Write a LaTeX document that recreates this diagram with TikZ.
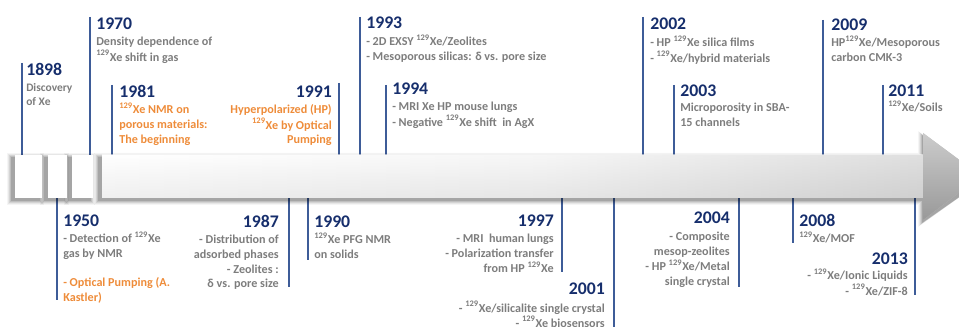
\documentclass[tikz,border=0pt]{standalone}
\usepackage{fontspec}
\setmainfont{Carlito}
\usetikzlibrary{shadings}
\definecolor{navy}{RGB}{22,46,108}
\definecolor{vline}{RGB}{62,92,152}
\definecolor{txtgray}{RGB}{125,125,125}
\definecolor{orng}{RGB}{238,140,58}
\newcommand\XeIso{\textsuperscript{129}Xe}
\newcommand\descfont{\fontsize{9.1pt}{10.9pt}\selectfont\bfseries}
\tikzset{
  year/.style={font=\fontsize{13.3pt}{15pt}\selectfont\bfseries, text=navy, inner sep=0pt},
  desc/.style={font=\descfont, text=txtgray, inner sep=0pt},
  descor/.style={desc, text=orng},
  tick/.style={draw=vline, line width=1.1pt},
  block/.style={fill=white},
}
\newcommand\Lt[1]{\begin{tabular}[t]{@{}l@{}}#1\end{tabular}}
\newcommand\Rt[1]{\begin{tabular}[t]{@{}r@{}}#1\end{tabular}}
\begin{document}
\begin{tikzpicture}[x=0.75pt,y=-0.75pt]
\useasboundingbox (0,0) rectangle (959,327);
\clip (0,0) rectangle (959,327);
% ---------- vertical ticks (top) ----------
\coordinate (t1898a) at (22,63);  \coordinate (t1898b) at (22,156);
\coordinate (t1970a) at (90,17);  \coordinate (t1970b) at (90,156);
\coordinate (t1981a) at (112,85); \coordinate (t1981b) at (112,156);
\coordinate (t1991a) at (339,83); \coordinate (t1991b) at (339,156);
\coordinate (t1993a) at (360,17); \coordinate (t1993b) at (360,156);
\coordinate (t1994a) at (386,85); \coordinate (t1994b) at (386,156);
\coordinate (t2002a) at (643,17); \coordinate (t2002b) at (643,156);
\coordinate (t2003a) at (674,85); \coordinate (t2003b) at (674,156);
\coordinate (t2009a) at (823,20); \coordinate (t2009b) at (823,156);
\coordinate (t2011a) at (883,85); \coordinate (t2011b) at (883,156);
\foreach \y in {1898,1970,1981,1991,1993,1994,2002,2003,2009,2011}
  \draw[tick] (t\y a) -- (t\y b);
% ---------- vertical ticks (bottom) ----------
\coordinate (b1950a) at (57,197);  \coordinate (b1950b) at (57,300);
\coordinate (b1987a) at (289,197); \coordinate (b1987b) at (289,287);
\coordinate (b1990a) at (308,197); \coordinate (b1990b) at (308,260);
\coordinate (b1997a) at (562,197); \coordinate (b1997b) at (562,272);
\coordinate (b2001a) at (614,197); \coordinate (b2001b) at (614,330);
\coordinate (b2004a) at (739,197); \coordinate (b2004b) at (739,287);
\coordinate (b2008a) at (793,197); \coordinate (b2008b) at (793,243);
\coordinate (b2013a) at (915,197); \coordinate (b2013b) at (915,295);
\foreach \y in {1950,1987,1990,1997,2001,2004,2008,2013}
  \draw[tick] (b\y a) -- (b\y b);
% ---------- arrow ----------
\foreach \k/\o in {1/0.13,2/0.10,3/0.08,4/0.06,5/0.04} {
  \fill[black,opacity=\o] (15-\k-3,155-\k+3) rectangle (42+\k-3,198+\k+2);
  \fill[black,opacity=\o] (48-\k-3,155-\k+3) rectangle (67+\k-3,198+\k+2);
  \fill[black,opacity=\o] (72-\k-3,155-\k+3) rectangle (93+\k-3,198+\k+2);
  \fill[black,opacity=\o] (102-\k-3,155-\k+3) -- (923-\k,155-\k+3) -- (923-\k,133-\k+3)
     -- (985,176+3) -- (923-\k,220+\k+2) -- (923-\k,198+\k+2) -- (102-\k-3,198+\k+2) -- cycle;
}
\node[block, minimum width=27*0.75pt, minimum height=43*0.75pt, inner sep=0pt, anchor=north west] (blk1) at (15,155) {};
\node[block, minimum width=19*0.75pt, minimum height=43*0.75pt, inner sep=0pt, anchor=north west] (blk2) at (48,155) {};
\node[block, minimum width=21*0.75pt, minimum height=43*0.75pt, inner sep=0pt, anchor=north west] (blk3) at (72,155) {};
\shade[left color=white, right color=black!28, middle color=black!7]
  (102,155) -- (923,155) -- (923,133) -- (981,176) -- (923,220) -- (923,198) -- (102,198) -- cycle;
\shade[top color=white, bottom color=black!12, opacity=0.5]
  (102,155) rectangle (923,198);
\shade[top color=black!20, bottom color=black!40] (923,133) -- (981,176) -- (923,220) -- cycle;
% ---------- top events ----------
\node[year, anchor=base west] (y1898) at (26,76) {1898};
\node[desc, anchor=base west] (d1898) at (26,92) {\fontsize{8.6pt}{10pt}\selectfont\Lt{Discovery\\of Xe}};
\node[year, anchor=base west] (y1970) at (96,30) {1970};
\node[desc, anchor=base west] (d1970) at (96,46) {\Lt{Density dependence of\\\XeIso{} shift in gas}};
\node[year, anchor=base west] (y1981) at (119,98) {1981};
\node[descor, anchor=base west] (d1981) at (119,114) {\Lt{\XeIso{} NMR on\\porous materials:\\The beginning}};
\node[year, anchor=base east] (y1991) at (332,98) {1991};
\node[descor, anchor=base east] (d1991) at (332,114) {\Rt{Hyperpolarized (HP)\\\XeIso{} by Optical\\Pumping}};
\node[year, anchor=base west] (y1993) at (366,29) {1993};
\node[desc, anchor=base west] (d1993) at (366,46) {\Lt{- 2D EXSY \XeIso/Zeolites\\- Mesoporous silicas: δ vs. pore size}};
\node[year, anchor=base west] (y1994) at (392,95) {1994};
\node[desc, anchor=base west] (d1994) at (392,111) {\Lt{- MRI Xe HP mouse lungs\\- Negative \XeIso{} shift\ \ in AgX}};
\node[year, anchor=base west] (y2002) at (650,30) {2002};
\node[desc, anchor=base west] (d2002) at (650,47) {\Lt{- HP \XeIso{} silica films\\- \XeIso/hybrid materials}};
\node[year, anchor=base west] (y2003) at (680,97) {2003};
\node[desc, anchor=base west] (d2003) at (680,112) {\Lt{Microporosity in SBA-\\15 channels}};
\node[year, anchor=base west] (y2009) at (831,31) {2009};
\node[desc, anchor=base west] (d2009) at (831,47) {\Lt{HP\XeIso/Mesoporous\\carbon CMK-3}};
\node[year, anchor=base west] (y2011) at (888,97) {2011};
\node[desc, anchor=base west] (d2011) at (888,112) {\XeIso/Soils};
% ---------- bottom events ----------
\node[year, anchor=base west] (y1950) at (63,227) {1950};
\node[desc, anchor=base west] (d1950) at (63,243) {\Lt{- Detection of \XeIso\\gas by NMR\\ \\\textcolor{orng}{- Optical Pumping (A.}\\\textcolor{orng}{Kastler)}}};
\node[year, anchor=base east] (y1987) at (279,228) {1987};
\node[desc, anchor=base east] (d1987) at (279,244) {\Rt{- Distribution of\\adsorbed phases\\- Zeolites :\\δ vs. pore size}};
\node[year, anchor=base west] (y1990) at (314,228) {1990};
\node[desc, anchor=base west] (d1990) at (314,244) {\Lt{\XeIso{} PFG NMR\\on solids}};
\node[year, anchor=base east] (y1997) at (554,227) {1997};
\node[desc, anchor=base east] (d1997) at (554,243) {\Rt{- MRI\ \ human lungs\\- Polarization transfer\\from HP \XeIso}};
\node[year, anchor=base east] (y2001) at (605,295) {2001};
\node[desc, anchor=base east] (d2001) at (605,312) {\Rt{- \XeIso/silicalite single crystal\\- \XeIso{} biosensors}};
\node[year, anchor=base east] (y2004) at (730,224) {2004};
\node[desc, anchor=base east] (d2004) at (730,241) {\Rt{- Composite\\mesop-zeolites\\- HP \XeIso/Metal\\single crystal}};
\node[year, anchor=base west] (y2008) at (799,227) {2008};
\node[desc, anchor=base west] (d2008) at (799,243) {\XeIso/MOF};
\node[year, anchor=base east] (y2013) at (908,265) {2013};
\node[desc, anchor=base east] (d2013) at (908,280) {\Rt{- \XeIso/Ionic Liquids\\- \XeIso/ZIF-8}};
\end{tikzpicture}
\end{document}
